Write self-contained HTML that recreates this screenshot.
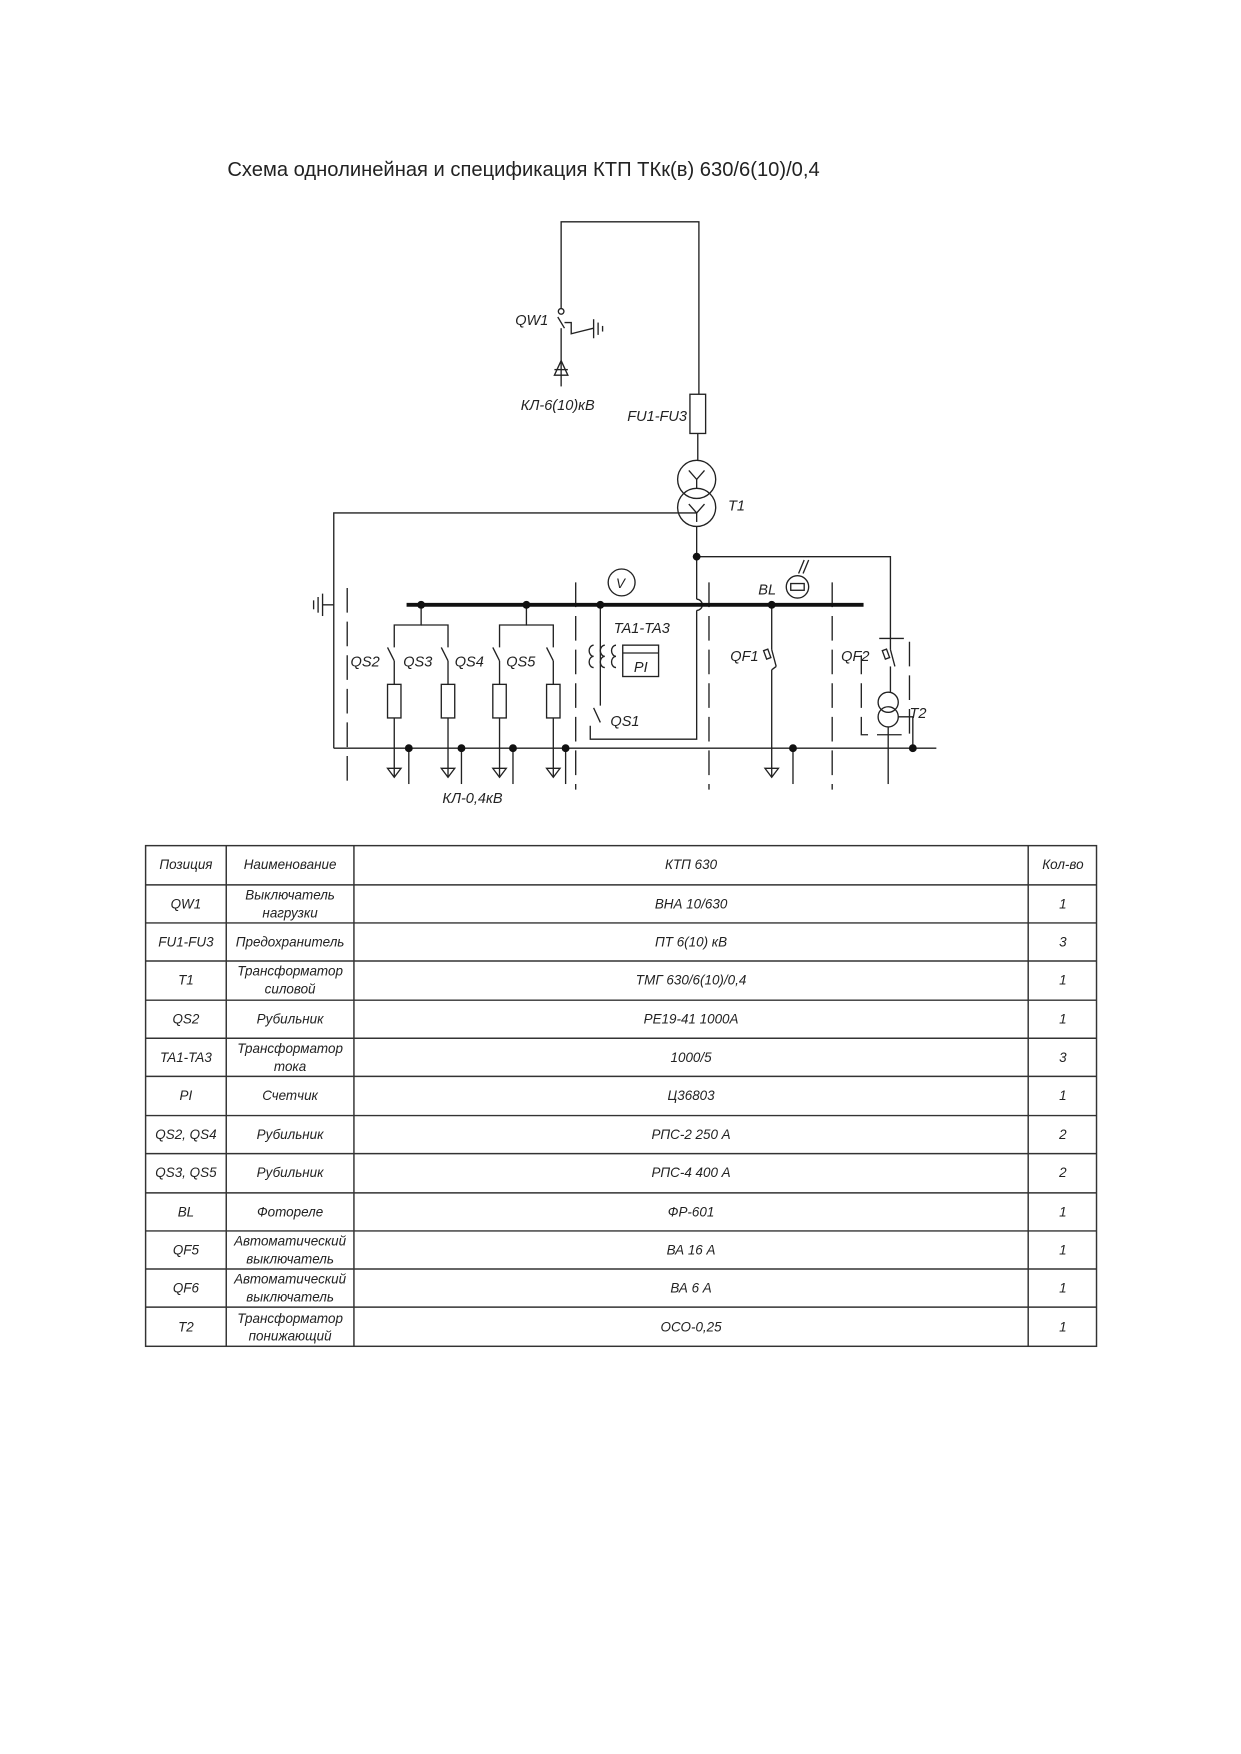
<!DOCTYPE html>
<html><head><meta charset="utf-8"><style>
html,body{margin:0;padding:0;background:#fff;}
svg{display:block;}
text{font-family:"Liberation Sans",sans-serif;fill:#222;}
.i{font-style:italic;font-size:13px;}
.t{font-style:italic;font-size:12px;}
</style></head><body>
<svg width="1241" height="1754" viewBox="0 0 1108 1566" preserveAspectRatio="none" xmlns="http://www.w3.org/2000/svg">
<text x="203" y="157" style="font-size:18px">Схема однолинейная и спецификация КТП ТКк(в) 630/6(10)/0,4</text>
<g stroke="#222" fill="none" stroke-width="1.2">
<!-- top feed -->
<polyline points="501,276 501,198 624,198 624,352"/>
<circle cx="501" cy="278" r="2.5"/>
<polyline points="498,283 504,293"/>
<polyline points="504,288 510,288 510,298 518,296 530,293"/>
<line x1="530" y1="285" x2="530" y2="302"/><line x1="534" y1="288" x2="534" y2="299"/><line x1="538" y1="291" x2="538" y2="296"/>
<line x1="501" y1="293" x2="501" y2="345"/>
<polygon points="501,322 495,335 507,335"/>
<line x1="495" y1="330" x2="507" y2="330"/>
<rect x="616" y="352" width="14" height="35"/>
<line x1="623" y1="387" x2="623" y2="411"/>
<circle cx="622" cy="428" r="17"/><circle cx="622" cy="453" r="17"/>
<polyline points="615,420 622,428 629,420"/><line x1="622" y1="428" x2="622" y2="436"/>
<polyline points="615,450 622,458 629,450"/><line x1="622" y1="458" x2="622" y2="466"/>
<polyline points="622,458 298,458 298,668"/>
<line x1="622" y1="470" x2="622" y2="535"/>
<path d="M622,535 a5,5 0 0 1 0,10"/>
<polyline points="622,545 622,660 527,660 527,648"/>
<polyline points="622,497 795,497 795,570"/>
<!-- ground left -->
<line x1="298" y1="540" x2="288" y2="540"/>
<line x1="288" y1="530" x2="288" y2="550"/><line x1="284" y1="533" x2="284" y2="547"/><line x1="280" y1="536" x2="280" y2="544"/>
<!-- dashed separators -->
<g stroke-dasharray="22,8">
<line x1="310" y1="525" x2="310" y2="705"/>
<line x1="514" y1="520" x2="514" y2="705"/>
<line x1="633" y1="520" x2="633" y2="705"/>
<line x1="743" y1="520" x2="743" y2="705"/>
<polyline points="785,570 812,570 812,656 769,656 769,585"/>
</g>
<line x1="298" y1="668" x2="836" y2="668"/>
<!-- feeders -->
<polyline points="376,540 376,558 352,558 352,578"/><polyline points="376,558 400,558 400,578"/>
<polyline points="470,540 470,558 446,558 446,578"/><polyline points="470,558 494,558 494,578"/>
<g>
<line x1="346" y1="578" x2="352" y2="590"/><line x1="352" y1="590" x2="352" y2="611"/>
<line x1="394" y1="578" x2="400" y2="590"/><line x1="400" y1="590" x2="400" y2="611"/>
<line x1="440" y1="578" x2="446" y2="590"/><line x1="446" y1="590" x2="446" y2="611"/>
<line x1="488" y1="578" x2="494" y2="590"/><line x1="494" y1="590" x2="494" y2="611"/>
<rect x="346" y="611" width="12" height="30"/><rect x="394" y="611" width="12" height="30"/>
<rect x="440" y="611" width="12" height="30"/><rect x="488" y="611" width="12" height="30"/>
<line x1="352" y1="641" x2="352" y2="694"/><line x1="400" y1="641" x2="400" y2="694"/>
<line x1="446" y1="641" x2="446" y2="694"/><line x1="494" y1="641" x2="494" y2="694"/>
<polygon points="346,686 358,686 352,694"/><polygon points="394,686 406,686 400,694"/>
<polygon points="440,686 452,686 446,694"/><polygon points="488,686 500,686 494,694"/>
<line x1="365" y1="668" x2="365" y2="700"/><line x1="412" y1="668" x2="412" y2="700"/>
<line x1="458" y1="668" x2="458" y2="700"/><line x1="505" y1="668" x2="505" y2="700"/>
</g>
<!-- metering -->
<circle cx="555" cy="520" r="12"/>
<line x1="536" y1="540" x2="536" y2="630"/>
<line x1="530" y1="632" x2="536" y2="645"/>
<path d="M530,576 a4,5 0 0 0 0,10 a4,5 0 0 0 0,10 M540,576 a4,5 0 0 0 0,10 a4,5 0 0 0 0,10 M550,576 a4,5 0 0 0 0,10 a4,5 0 0 0 0,10"/>
<rect x="556" y="576" width="32" height="28"/><line x1="556" y1="583" x2="588" y2="583"/>
<!-- QF1 -->
<line x1="689" y1="540" x2="689" y2="580"/><line x1="689" y1="580" x2="693" y2="595"/>
<rect x="683" y="580" width="4" height="8" transform="rotate(-20 685 584)"/>
<line x1="693" y1="595" x2="689" y2="598"/>
<line x1="689" y1="598" x2="689" y2="694"/><polygon points="683,686 695,686 689,694"/>
<line x1="708" y1="668" x2="708" y2="700"/>
<!-- BL -->
<circle cx="712" cy="524" r="10"/><rect x="706" y="521" width="12" height="6"/>
<line x1="713" y1="512" x2="718" y2="500"/><line x1="717" y1="512" x2="722" y2="500"/>
<!-- QF2 / T2 -->
<line x1="795" y1="570" x2="795" y2="580"/><line x1="795" y1="580" x2="799" y2="595"/>
<rect x="789" y="580" width="4" height="8" transform="rotate(-20 791 584)"/>
<line x1="795" y1="595" x2="795" y2="618"/>
<circle cx="793" cy="627" r="9"/><circle cx="793" cy="640" r="9"/>
<line x1="793" y1="649" x2="793" y2="700"/>
<polyline points="802,640 815,640 815,668"/>
</g>
<line x1="363" y1="540" x2="771" y2="540" stroke="#111" stroke-width="3.5"/>
<g fill="#111">
<circle cx="376" cy="540" r="3.5"/><circle cx="470" cy="540" r="3.5"/><circle cx="536" cy="540" r="3.5"/><circle cx="689" cy="540" r="3.5"/>
<circle cx="622" cy="497" r="3.5"/>
<circle cx="365" cy="668" r="3.5"/><circle cx="412" cy="668" r="3.5"/><circle cx="458" cy="668" r="3.5"/><circle cx="505" cy="668" r="3.5"/>
<circle cx="708" cy="668" r="3.5"/><circle cx="815" cy="668" r="3.5"/>
</g>
<g class="i">
<text x="460" y="290">QW1</text>
<text x="465" y="366">КЛ-6(10)кВ</text>
<text x="560" y="376">FU1-FU3</text>
<text x="650" y="456">T1</text>
<text x="550" y="525" style="font-size:12px">V</text>
<text x="677" y="531">BL</text>
<text x="548" y="565">TA1-TA3</text>
<text x="566" y="600">PI</text>
<text x="313" y="595">QS2</text><text x="360" y="595">QS3</text><text x="406" y="595">QS4</text><text x="452" y="595">QS5</text>
<text x="545" y="648">QS1</text>
<text x="652" y="590">QF1</text><text x="751" y="590">QF2</text>
<text x="812" y="641">T2</text>
<text x="395" y="717">КЛ-0,4кВ</text>
</g>
<!-- table -->
<g stroke="#333" stroke-width="1.3" fill="none">
<rect x="130" y="755" width="849" height="447"/>
<line x1="202" y1="755" x2="202" y2="1202"/><line x1="316" y1="755" x2="316" y2="1202"/><line x1="918" y1="755" x2="918" y2="1202"/>
<line x1="130" y1="790" x2="979" y2="790"/><line x1="130" y1="824" x2="979" y2="824"/><line x1="130" y1="858" x2="979" y2="858"/>
<line x1="130" y1="893" x2="979" y2="893"/><line x1="130" y1="927" x2="979" y2="927"/><line x1="130" y1="961" x2="979" y2="961"/>
<line x1="130" y1="996" x2="979" y2="996"/><line x1="130" y1="1030" x2="979" y2="1030"/><line x1="130" y1="1065" x2="979" y2="1065"/>
<line x1="130" y1="1099" x2="979" y2="1099"/><line x1="130" y1="1133" x2="979" y2="1133"/><line x1="130" y1="1167" x2="979" y2="1167"/>
</g>
<g class="t" text-anchor="middle">
<text x="166" y="776">Позиция</text><text x="259" y="776">Наименование</text><text x="617" y="776">КТП 630</text><text x="949" y="776">Кол-во</text>
<text x="166" y="811">QW1</text><text x="259" y="803">Выключатель</text><text x="259" y="819">нагрузки</text><text x="617" y="811">ВНА 10/630</text><text x="949" y="811">1</text>
<text x="166" y="845">FU1-FU3</text><text x="259" y="845">Предохранитель</text><text x="617" y="845">ПТ 6(10) кВ</text><text x="949" y="845">3</text>
<text x="166" y="879">T1</text><text x="259" y="871">Трансформатор</text><text x="259" y="887">силовой</text><text x="617" y="879">ТМГ 630/6(10)/0,4</text><text x="949" y="879">1</text>
<text x="166" y="914">QS2</text><text x="259" y="914">Рубильник</text><text x="617" y="914">РЕ19-41 1000А</text><text x="949" y="914">1</text>
<text x="166" y="948">TA1-TA3</text><text x="259" y="940">Трансформатор</text><text x="259" y="956">тока</text><text x="617" y="948">1000/5</text><text x="949" y="948">3</text>
<text x="166" y="982">PI</text><text x="259" y="982">Счетчик</text><text x="617" y="982">Ц36803</text><text x="949" y="982">1</text>
<text x="166" y="1017">QS2, QS4</text><text x="259" y="1017">Рубильник</text><text x="617" y="1017">РПС-2 250 А</text><text x="949" y="1017">2</text>
<text x="166" y="1051">QS3, QS5</text><text x="259" y="1051">Рубильник</text><text x="617" y="1051">РПС-4 400 А</text><text x="949" y="1051">2</text>
<text x="166" y="1086">BL</text><text x="259" y="1086">Фотореле</text><text x="617" y="1086">ФР-601</text><text x="949" y="1086">1</text>
<text x="166" y="1120">QF5</text><text x="259" y="1112">Автоматический</text><text x="259" y="1128">выключатель</text><text x="617" y="1120">ВА 16 А</text><text x="949" y="1120">1</text>
<text x="166" y="1154">QF6</text><text x="259" y="1146">Автоматический</text><text x="259" y="1162">выключатель</text><text x="617" y="1154">ВА 6 А</text><text x="949" y="1154">1</text>
<text x="166" y="1189">T2</text><text x="259" y="1181">Трансформатор</text><text x="259" y="1197">понижающий</text><text x="617" y="1189">ОСО-0,25</text><text x="949" y="1189">1</text>
</g>
</svg>
</body></html>
